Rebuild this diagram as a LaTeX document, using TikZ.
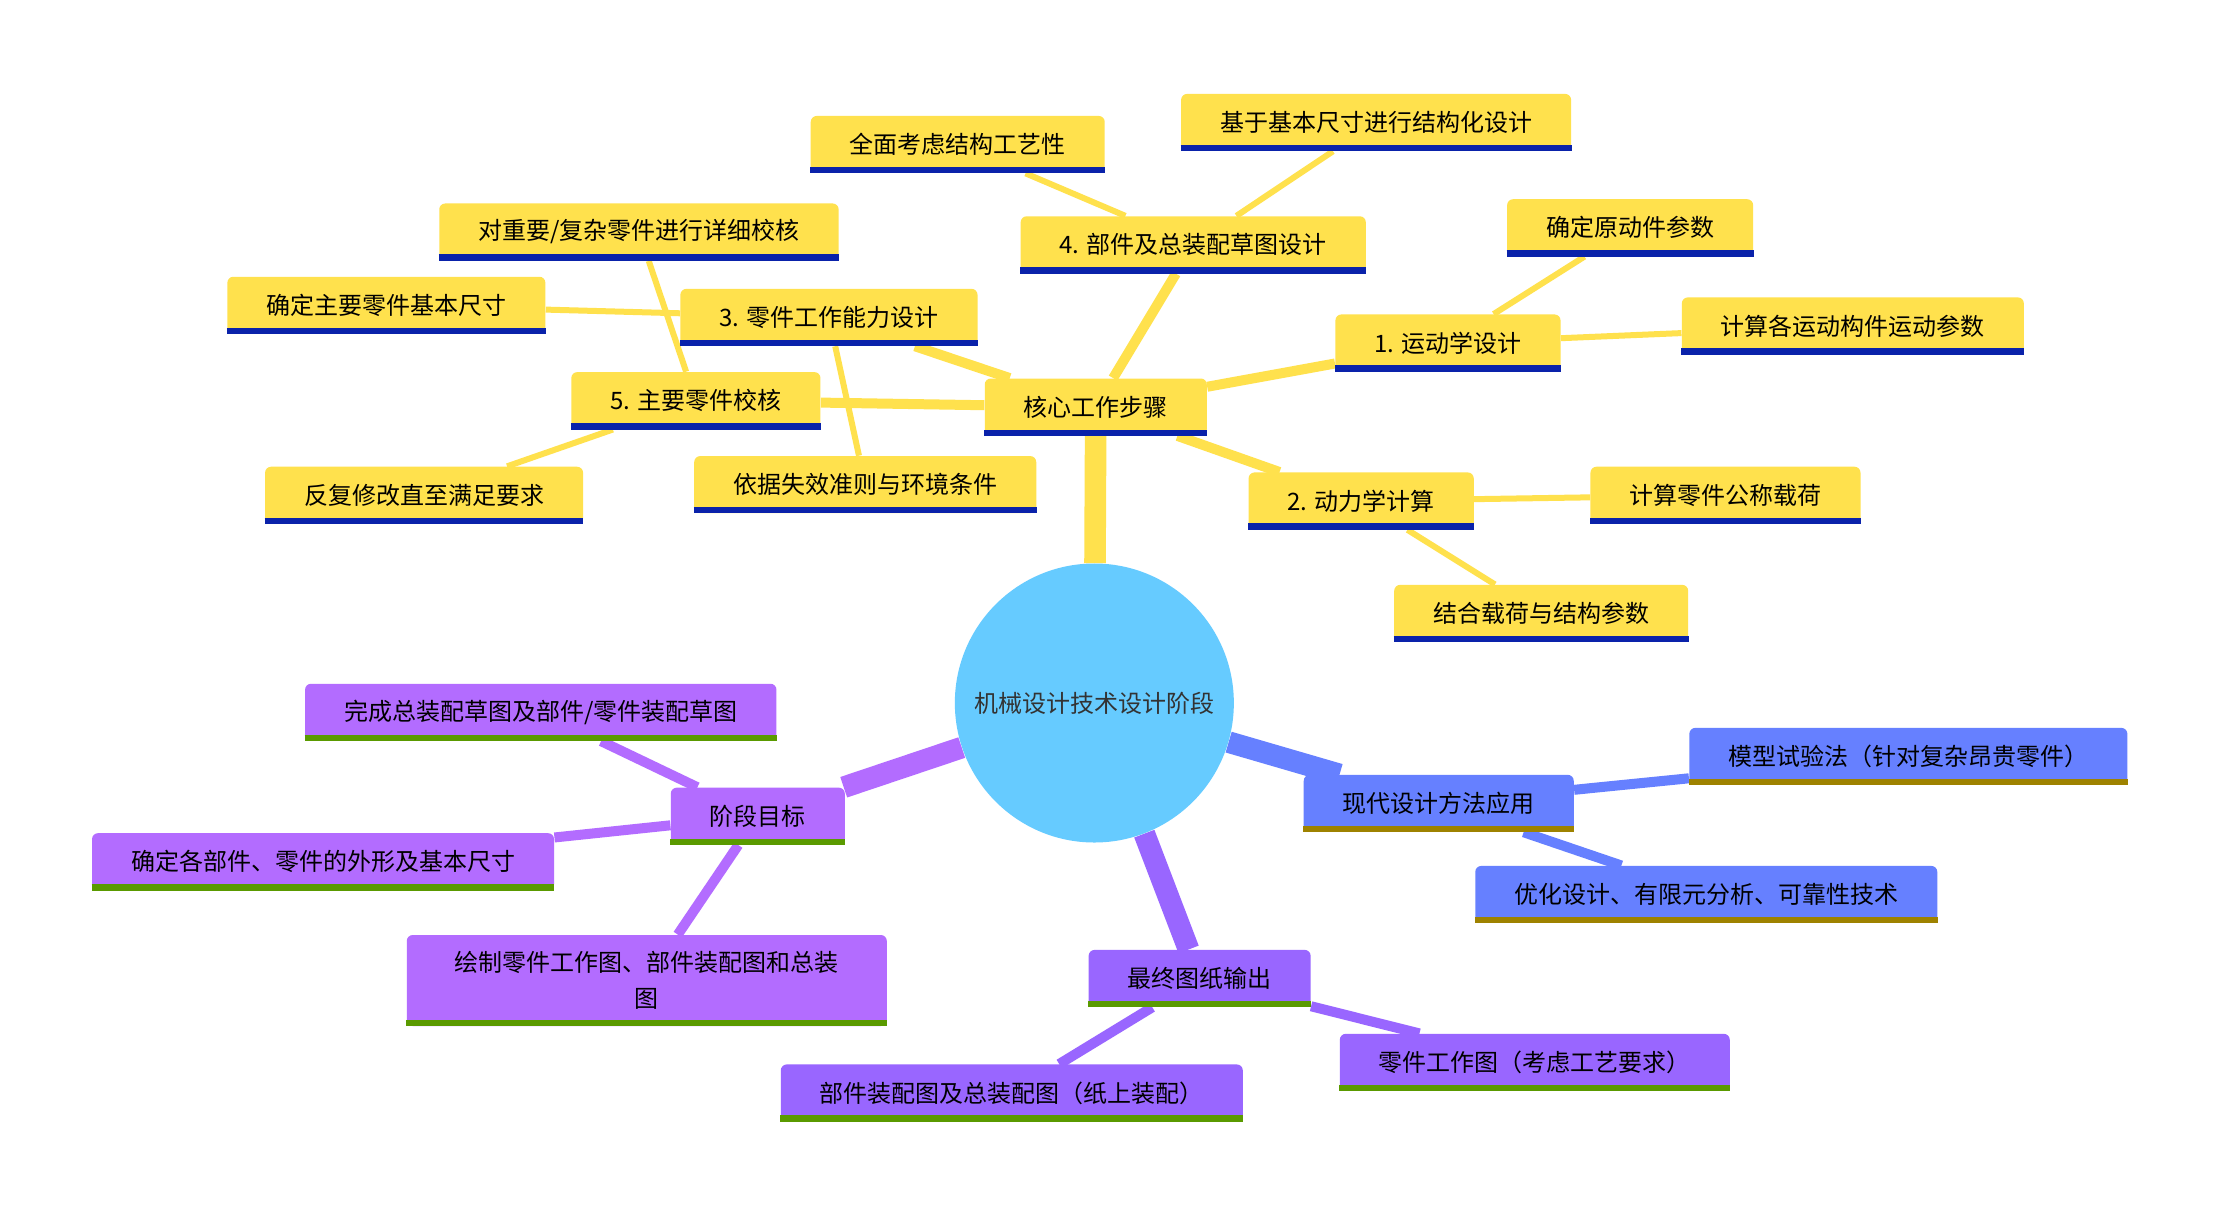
\documentclass[tikz,border=0pt]{standalone}
\usepackage{fontspec}
\newfontfamily\cjk{Noto Sans CJK SC}
\usepackage{tikz}
\usetikzlibrary{backgrounds}
\definecolor{rootblue}{HTML}{66CBFF}
\definecolor{rootgray}{HTML}{333333}
\definecolor{stepyellow}{HTML}{FFE14D}
\definecolor{stepline}{HTML}{0A22AA}
\definecolor{goalpurple}{HTML}{B36CFF}
\definecolor{outpurple}{HTML}{9966FF}
\definecolor{greenline}{HTML}{5A9A00}
\definecolor{modernblue}{HTML}{6680FF}
\definecolor{oliveline}{HTML}{9E8200}

\begin{document}
\begin{tikzpicture}[x=0.7115pt,y=-0.7115pt]
		\useasboundingbox (4,2) rectangle (1564,854.4);
		\node[circle,fill=rootblue,minimum size=139.5pt,inner sep=0pt,text=rootgray,
		      font=\cjk\fontsize{12}{15}\selectfont] (root) at (773,496) {机械设计技术设计阶段};

		\begin{scope}[every node/.style={rectangle,rounded corners=3pt,fill=stepyellow,
		              minimum height=28.5pt,inner xsep=19.5pt,text=black,
		              font=\cjk\fontsize{12}{17.8}\selectfont}]
			\node (core) at (774,288) {核心工作步骤};
			\node (kine) at (1021.5,243) {1. 运动学设计};
			\node (dyna) at (960.5,354) {2. 动力学计算};
			\node (abil) at (586.5,225) {3. 零件工作能力设计};
			\node (sketch) at (842.5,174) {4. 部件及总装配草图设计};
			\node (check) at (493,283.5) {5. 主要零件校核};
			\node (prime) at (1149.5,162) {确定原动件参数};
			\node (motion) at (1306,231) {计算各运动构件运动参数};
			\node (load) at (1216.5,350) {计算零件公称载荷};
			\node (combine) at (1087,433) {结合载荷与结构参数};
			\node (size) at (275.5,216.5) {确定主要零件基本尺寸};
			\node (fail) at (612,342.5) {依据失效准则与环境条件};
			\node (craft) at (677,103.5) {全面考虑结构工艺性};
			\node (struct) at (971,88) {基于基本尺寸进行结构化设计};
			\node (detail) at (453,165) {对重要/复杂零件进行详细校核};
			\node (revise) at (302,350) {反复修改直至满足要求};
		\end{scope}

		\begin{scope}[every node/.style={rectangle,rounded corners=3pt,fill=goalpurple,
		              minimum height=28.5pt,inner xsep=19.5pt,text=black,align=center,
		              font=\cjk\fontsize{12}{17.8}\selectfont}]
			\node (goal) at (536.5,575.5) {阶段目标};
			\node (draft) at (384,502.5) {完成总装配草图及部件/零件装配草图};
			\node (outline) at (231,607.5) {确定各部件、零件的外形及基本尺寸};
			\node[minimum height=45.5pt,minimum width=240pt] (drawing) at (458.5,691) {绘制零件工作图、部件装配图和总装\\图};
		\end{scope}

		\begin{scope}[every node/.style={rectangle,rounded corners=3pt,fill=outpurple,
		              minimum height=28.5pt,inner xsep=19.5pt,text=black,
		              font=\cjk\fontsize{12}{17.8}\selectfont}]
			\node (output) at (847,689.5) {最终图纸输出};
			\node (assembly) at (715,770) {部件装配图及总装配图（纸上装配）};
			\node (partdwg) at (1082.5,748.5) {零件工作图（考虑工艺要求）};
		\end{scope}

		\begin{scope}[every node/.style={rectangle,rounded corners=3pt,fill=modernblue,
		              minimum height=28.5pt,inner xsep=19.5pt,text=black,
		              font=\cjk\fontsize{12}{17.8}\selectfont}]
			\node (modern) at (1015,566.5) {现代设计方法应用};
			\node (model) at (1345,533.5) {模型试验法（针对复杂昂贵零件）};
			\node (optim) at (1203,630.5) {优化设计、有限元分析、可靠性技术};
		\end{scope}

		% underlines
		\foreach \n/\c in {core/stepline,kine/stepline,dyna/stepline,abil/stepline,
		                   sketch/stepline,check/stepline,prime/stepline,motion/stepline,
		                   load/stepline,combine/stepline,size/stepline,fail/stepline,
		                   craft/stepline,struct/stepline,detail/stepline,revise/stepline,
		                   goal/greenline,draft/greenline,outline/greenline,drawing/greenline,
		                   output/greenline,assembly/greenline,partdwg/greenline,
		                   modern/oliveline,model/oliveline,optim/oliveline}
			\draw[line width=3.2pt,draw=\c] ([yshift=1.6pt]\n.south west) -- ([yshift=1.6pt]\n.south east);

		\begin{scope}[on background layer]
			\fill[white] (4,2) rectangle (1564,854.4);
			\begin{scope}[every edge/.style={draw=stepyellow,line width=5pt}]
				\path (root) edge[line width=10.8pt] (core);
				\path (core) edge (kine);
				\path (core) edge (dyna);
				\path (core) edge (abil);
				\path (core) edge (sketch);
				\path (core) edge (check);
				\path (kine) edge[line width=3pt] (prime);
				\path (kine) edge[line width=3pt] (motion);
				\path (dyna) edge[line width=3pt] (load);
				\path (dyna) edge[line width=3pt] (combine);
				\path (abil) edge[line width=3pt] (size);
				\path (abil) edge[line width=3pt] (fail);
				\path (sketch) edge[line width=3pt] (craft);
				\path (sketch) edge[line width=3pt] (struct);
				\path (check) edge[line width=3pt] (detail);
				\path (check) edge[line width=3pt] (revise);
			\end{scope}
			\begin{scope}[every edge/.style={draw=goalpurple,line width=5pt}]
				\path (root) edge[line width=10.8pt] (goal);
				\path (goal) edge (draft);
				\path (goal) edge (outline);
				\path (goal) edge (drawing);
			\end{scope}
			\begin{scope}[every edge/.style={draw=outpurple,line width=5pt}]
				\path (root) edge[line width=10.8pt] (output);
				\path (output) edge (assembly);
				\path (output) edge (partdwg);
			\end{scope}
			\begin{scope}[every edge/.style={draw=modernblue,line width=5pt}]
				\path (root) edge[line width=10.8pt] (modern);
				\path (modern) edge (model);
				\path (modern) edge (optim);
			\end{scope}
		\end{scope}
\end{tikzpicture}
\end{document}
